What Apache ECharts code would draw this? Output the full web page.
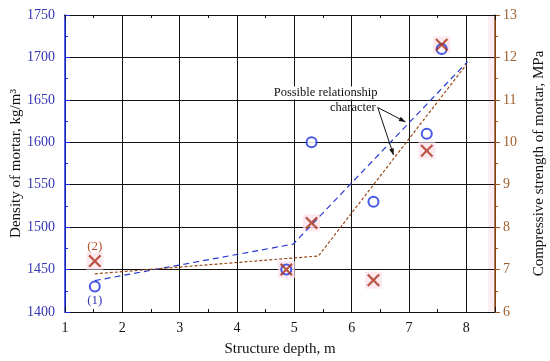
<!DOCTYPE html>
<html><head><meta charset="utf-8">
<script src="https://cdn.jsdelivr.net/npm/echarts@6/dist/echarts.min.js"></script>
<style>html,body{margin:0;padding:0;background:#fff}#c{width:550px;height:361px}</style>
</head><body><div id="c"></div>
<script>
const depth = [1.52, 4.86, 5.30, 6.38, 7.31, 7.57];
const density = [1430, 1450, 1600, 1530, 1610, 1710];
const strength = [7.2, 7.0, 8.1, 6.75, 9.8, 12.3];
const densityTrendX = [1.52, 4.98, 8.02];
const densityTrendY = [1437, 1480, 1695];
const strengthTrendX = [1.52, 5.42, 8.0];
const strengthTrendY = [6.9, 7.32, 11.83];
const xTicks = [1, 2, 3, 4, 5, 6, 7, 8];

const F = '"Liberation Serif","Times New Roman",serif';
const blue = '#1a2ee0', brown = '#a8321a';
const zip = (a, b) => a.map((v, i) => [v, b[i]]);
const crossPath = 'path://M0,1.2L1.2,0L5,3.8L8.8,0L10,1.2L6.2,5L10,8.8L8.8,10L5,6.2L1.2,10L0,8.8L3.8,5Z';

const chart = echarts.init(document.getElementById('c'));
const option = {
  animation: false,
  grid: {left: 65, right: 55, top: 15, bottom: 49, containLabel: false, outerBoundsMode: 'none'},
  xAxis: [{
    type: 'value', min: 1, max: 8.5, interval: 1,
    name: 'Structure depth, m', nameLocation: 'middle', nameGap: 30, nameMoveOverlap: false,
    nameTextStyle: {fontFamily: F, fontSize: 15, color: '#111'},
    axisLine: {lineStyle: {color: '#111', width: 1.2}},
    axisTick: {inside: true, length: 5, lineStyle: {color: '#111'}},
    minorTick: {show: true, splitNumber: 2, length: 3, lineStyle: {color: '#111'}},
    axisLabel: {fontFamily: F, fontSize: 14, color: '#111', margin: 9,
      formatter: v => xTicks.includes(v) ? String(v) : ''},
    splitLine: {show: true, lineStyle: {color: '#111', width: 1}}
  }, {
    type: 'value', min: 1, max: 8.5, interval: 1, position: 'top',
    axisLine: {show: true, lineStyle: {color: '#111', width: 1.2}},
    axisTick: {show: true, inside: true, length: 5, lineStyle: {color: '#111'}},
    minorTick: {show: true, splitNumber: 2, length: 3, lineStyle: {color: '#111'}},
    axisLabel: {show: false}, splitLine: {show: false}
  }],
  yAxis: [{
    type: 'value', min: 1400, max: 1750, interval: 50,
    name: 'Density of mortar, kg/m³', nameLocation: 'middle', nameGap: 41, nameMoveOverlap: false,
    nameTextStyle: {fontFamily: F, fontSize: 15, color: '#111'},
    axisLine: {show: true, lineStyle: {color: blue, width: 1.5}},
    axisTick: {show: true, inside: true, length: 5, lineStyle: {color: blue}},
    minorTick: {show: true, splitNumber: 2, length: 3, lineStyle: {color: blue}},
    axisLabel: {fontFamily: F, fontSize: 14, color: '#3535b5', margin: 10, formatter: v => String(v)},
    splitLine: {show: true, lineStyle: {color: '#111', width: 1}}
  }, {
    type: 'value', min: 6, max: 13, interval: 1, position: 'right',
    name: 'Compressive strength of mortar, MPa', nameLocation: 'middle', nameGap: 37, nameMoveOverlap: false,
    nameRotate: 90,
    nameTextStyle: {fontFamily: F, fontSize: 15, color: '#111'},
    axisLine: {show: true, lineStyle: {color: '#a0521d', width: 1.5}},
    axisTick: {show: true, inside: false, length: 5, lineStyle: {color: '#a0521d'}},
    minorTick: {show: true, splitNumber: 2, length: 3, lineStyle: {color: '#a0521d'}},
    axisLabel: {fontFamily: F, fontSize: 14, color: '#a0602d', margin: 8},
    splitLine: {show: false}
  }],
  series: [
    {type: 'scatter', yAxisIndex: 1, symbol: 'rect', symbolSize: 17, z: 1,
     itemStyle: {color: '#fce3ec'}, data: zip(depth, strength), silent: true},
    {type: 'line', yAxisIndex: 0, data: zip(densityTrendX, densityTrendY), symbol: 'none',
     lineStyle: {color: '#2a3ad0', width: 1.2, type: [6, 4]}, z: 3},
    {type: 'line', yAxisIndex: 1, data: zip(strengthTrendX, strengthTrendY), symbol: 'none',
     lineStyle: {color: '#9a4a1a', width: 1.2, type: [3, 2]}, z: 3},
    {type: 'scatter', yAxisIndex: 0, symbol: 'emptyCircle', symbolSize: 10, z: 4,
     itemStyle: {color: blue, borderColor: blue, borderWidth: 2.8}, data: zip(depth, density)},
    {type: 'scatter', yAxisIndex: 1, symbol: crossPath, symbolSize: 13, z: 5,
     itemStyle: {color: brown}, data: zip(depth, strength)}
  ]
};
chart.setOption(option);

const px = (x, y, ax) => chart.convertToPixel({xAxisIndex: 0, yAxisIndex: ax}, [x, y]);
const p1 = px(depth[0], density[0], 0);
const p2 = px(depth[0], strength[0], 1);
const tA = px(4.64, 1658, 0);
const tB = px(6.42, 1641, 0);
const aStart = [tB[0] + 2, tB[1]];
const aEnd1 = px(6.94, 1624, 0);
const aEnd2 = px(6.73, 1585, 0);
const rEdge = px(8.5, 1750, 0);
const bEdge = px(8.5, 1400, 0);
function arrow(s, e) {
  const ang = Math.atan2(e[1] - s[1], e[0] - s[0]);
  const L = 7, w = 0.35;
  return [
    {type: 'line', shape: {x1: s[0], y1: s[1], x2: e[0], y2: e[1]}, style: {stroke: '#111', lineWidth: 1}, z: 10},
    {type: 'polygon', shape: {points: [e,
      [e[0] - L * Math.cos(ang - w), e[1] - L * Math.sin(ang - w)],
      [e[0] - L * Math.cos(ang + w), e[1] - L * Math.sin(ang + w)]]}, style: {fill: '#111'}, z: 10}
  ];
}
chart.setOption({graphic: [
  {type: 'rect', shape: {x: rEdge[0] - 7, y: rEdge[1], width: 7, height: bEdge[1] - rEdge[1]}, style: {fill: '#fdeef3'}, z: -1, silent: true},
  {type: 'text', x: p1[0], y: p1[1] + 8, style: {text: '(1)', fontFamily: F, fontSize: 13, fill: '#3535b5', align: 'center', verticalAlign: 'top'}, z: 10},
  {type: 'text', x: p2[0], y: p2[1] - 8, style: {text: '(2)', fontFamily: F, fontSize: 13, fill: '#b8502a', align: 'center', verticalAlign: 'bottom'}, z: 10},
  {type: 'text', x: tA[0], y: tA[1], style: {text: 'Possible relationship', fontFamily: F, fontSize: 12.5, fill: '#111', align: 'left', verticalAlign: 'middle', backgroundColor: '#fff'}, z: 10},
  {type: 'text', x: tB[0], y: tB[1], style: {text: 'character', fontFamily: F, fontSize: 12.5, fill: '#111', align: 'right', verticalAlign: 'middle'}, z: 10},
  ...arrow(aStart, aEnd1), ...arrow(aStart, aEnd2)
]});
</script></body></html>
